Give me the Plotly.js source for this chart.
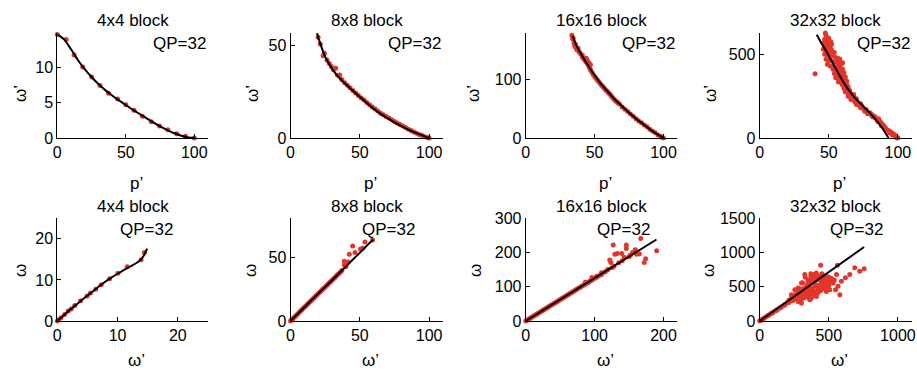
<!DOCTYPE html>
<html><head><meta charset="utf-8">
<script src="https://cdn.plot.ly/plotly-3.0.1.min.js"></script>
<style>html,body{margin:0;padding:0;background:#fff}</style>
</head><body><div id="chart" style="width:917px;height:372px"></div>
<script>
// ---- Panel titles / labels ----
var blockTitles = ["4x4 block", "8x8 block", "16x16 block", "32x32 block"];
var qpLabel = "QP=32";
var topXLabel = "p’", topYLabel = "ω’", botXLabel = "ω’", botYLabel = "ω";

// ---- Top row: p' vs omega' ----
// 4x4
var t4_px = [0, 6.5, 12.3, 18.6, 25.1, 31.2, 37.4, 44, 50, 56, 62.1, 68.6, 74.6, 80.7, 87.2, 93.5, 100];
var t4_py = [14.6, 13.9, 11.7, 10.0, 8.6, 7.4, 6.3, 5.5, 4.7, 3.9, 3.05, 2.3, 1.7, 1.17, 0.6, 0.24, 0];
var t4_cx = [0, 5, 10, 15, 20, 25, 30, 35, 40, 45, 50, 55, 60, 65, 70, 75, 80, 85, 90, 95, 100];
var t4_cy = [14.6, 13.9, 12.5, 11.0, 9.7, 8.6, 7.6, 6.75, 6.0, 5.3, 4.65, 4.0, 3.4, 2.8, 2.2, 1.65, 1.15, 0.7, 0.35, 0.1, 0.0];
// 8x8
var t8_px = [19.9, 21.5, 23.5, 24.5, 26.3, 28.0, 29.5, 31.0, 32.6, 34.0, 35.5, 37.0, 39.1, 41, 43, 45, 47, 49, 51, 53, 55, 57, 59, 61, 63, 65, 67, 69, 71, 73, 75, 77, 79, 81, 83, 85, 87, 89, 91, 93, 95, 97, 99, 100];
var t8_py = [54.7, 51.0, 44.6, 46.0, 42.4, 40.5, 38.8, 37.0, 37.9, 34.0, 34.2, 31.8, 30.0, 28.7, 27.3, 25.8, 24.4, 23.1, 21.7, 20.6, 19.3, 18.0, 16.8, 15.7, 14.6, 13.5, 12.6, 11.7, 10.8, 9.9, 9.0, 8.1, 7.3, 6.5, 5.7, 4.8, 4.1, 3.3, 2.6, 1.9, 1.3, 0.7, 0.2, 0];
var t8_cx = [19.1, 21, 23, 25, 28, 32, 36, 40, 45, 50, 55, 60, 65, 70, 75, 80, 85, 90, 95, 100];
var t8_cy = [56.9, 52.3, 48.0, 44.2, 39.9, 35.5, 32.0, 29.0, 25.6, 22.3, 19.0, 15.9, 13.1, 10.8, 8.5, 6.5, 4.6, 2.9, 1.4, 0.0];
// 16x16
var t16_px = [33.5, 34, 34.5, 35, 35.5, 36, 36, 37, 38, 38, 39, 40, 41, 41, 42, 43, 43.5, 44, 44, 44.5, 45, 45, 45.5, 46, 46, 46.5, 47, 47, 48, 49, 50, 51, 52, 53, 54, 55, 56, 57, 58, 59, 60, 61, 62, 63, 64, 65, 66, 67, 68, 70, 72, 74, 76, 78, 80, 82, 84, 86, 88, 90, 92, 94, 96, 98, 99, 100];
var t16_py = [175, 169, 170, 163, 158, 155, 160, 151, 149, 153, 146, 143, 138, 141, 135, 133, 131, 130, 136, 128, 127, 131, 125, 122, 128, 119, 116, 125, 112, 108, 105, 102, 99, 96, 93, 90, 88, 85, 82, 80, 77, 75, 72, 69, 66, 64, 62, 60, 58, 53, 49, 45, 41, 37, 33, 29, 26, 22, 19, 15, 12, 9, 5, 2.5, 1, 0];
var t16_cx = [34, 36, 38, 40, 43, 46, 50, 55, 60, 65, 70, 75, 80, 85, 90, 95, 100];
var t16_cy = [174, 162, 152, 144, 132, 121, 107, 91, 78, 65, 54, 43, 33, 24, 15, 7, 0];
// 32x32
var t32_px = [47.5, 48, 48.5, 47, 49, 50, 51, 46.5, 48, 50, 51.5, 47, 49, 51, 52, 50,
  46, 48, 50, 52, 54, 47, 49, 51, 53, 55, 57, 58, 48, 50, 52, 54, 56, 58, 59, 49, 51, 53, 55, 57, 58, 60, 60,
  53, 55, 57, 59, 61, 54, 56, 58, 60, 62, 55, 57, 59, 61, 63, 57, 59, 61, 63,
  60, 62, 64, 61, 63, 65, 62, 64, 66, 68, 64, 66, 68, 70, 66, 68, 70,
  69, 71, 73, 70, 72, 74, 73, 75, 77, 76, 78, 80, 78, 81,
  81, 83, 82, 84, 86, 85, 87, 86, 88, 89, 88, 90, 90, 91,
  91, 92, 93, 94, 95, 94, 96, 97, 96, 98, 98, 99, 100, 99.5, 40.1];
var t32_py = [627, 612, 600, 590, 585, 595, 572, 570, 565, 560, 575, 550, 545, 548, 560, 530,
  530, 520, 515, 525, 510, 500, 495, 500, 490, 480, 475, 470, 470, 465, 460, 455, 450, 445, 440, 440, 430, 425, 420, 430, 425, 450, 410,
  410, 405, 400, 395, 390, 385, 380, 375, 370, 365, 360, 355, 350, 345, 340, 335, 330, 325, 320,
  315, 310, 305, 295, 290, 285, 275, 270, 265, 260, 250, 245, 240, 235, 230, 225, 220,
  215, 210, 205, 200, 195, 190, 180, 175, 170, 160, 155, 150, 145, 140,
  135, 130, 125, 120, 115, 105, 100, 95, 90, 80, 75, 70, 65, 60,
  55, 50, 45, 40, 35, 30, 28, 22, 18, 15, 10, 5, 2, 0, 384];
var t32_cx = [41.3, 45, 49, 53, 57, 61, 65, 69, 73, 77, 81, 85, 89, 93.2];
var t32_cy = [617, 562, 506, 445, 385, 328, 280, 240, 205, 172, 138, 100, 55, 0];

// ---- Bottom row: omega' vs omega ----
var b4_px = [14.45, 13.9, 11.6, 10.05, 8.68, 7.3, 6.38, 5.5, 4.94, 3.85, 2.9, 2.3, 1.81, 1.2, 0.6, 0.24, 0];
var b4_py = [16.7, 14.9, 13.2, 11.6, 10.3, 8.8, 7.7, 6.8, 6.1, 4.9, 3.8, 2.95, 2.44, 1.6, 0.8, 0.3, 0];
var b4_cx = [0, 1, 2, 3, 4, 5, 6, 7, 8, 9, 10, 11, 12, 13, 13.6, 14, 14.5, 14.9];
var b4_cy = [0.1, 1.3, 2.6, 3.8, 5.0, 6.2, 7.3, 8.5, 9.6, 10.6, 11.5, 12.4, 13.2, 14.0, 14.6, 15.2, 16.3, 17.6];

var b8_px = [0, 0.5, 1, 1.5, 2, 3, 4, 5, 6, 7, 8, 9, 10, 11, 12, 13, 14, 15, 16, 17, 18, 19, 20, 21, 22, 23, 24, 25, 26, 27, 28, 29, 30, 31, 32, 33, 34, 35, 36, 37,
  38.8, 38.8, 41.7, 42.4, 46.5, 44.8, 52, 53.7, 59.2, 40, 50.5];
var b8_py = [0, 0.6, 1.1, 1.5, 2.2, 3.2, 4.3, 5.4, 6.5, 7.6, 8.6, 9.8, 10.9, 11.8, 13.0, 14.0, 15.1, 16.2, 17.3, 18.3, 19.5, 20.5, 21.6, 22.6, 23.7, 24.8, 25.8, 26.9, 28.0, 29.0, 30.2, 31.1, 32.2, 33.3, 34.4, 35.4, 36.6, 37.5, 38.7, 39.8,
  47.1, 44.2, 46.6, 52.6, 54.0, 59.2, 57.3, 62.4, 63.9, 43.0, 56.8];
var b8_cx = [0, 10, 20, 30, 40, 45, 50, 55, 59.6];
var b8_cy = [0, 10.9, 21.6, 32.2, 43.0, 48.5, 53.8, 59.3, 64.0];

var b16_px = [0, 2, 4, 6, 8, 10, 12, 14, 16, 18, 20, 22, 24, 26, 28, 30, 32, 34, 36, 38, 40, 42, 44, 46, 48, 50, 52, 54, 56, 58, 60, 62, 64, 66, 68, 70, 72, 74, 76, 78, 80, 82, 84, 86, 88, 90, 92, 94, 96, 98, 100, 103, 106, 110,
  127, 167, 190, 172, 174, 146, 146, 159, 161, 129.4, 133, 139.3, 123.6, 122, 125.5, 119.7, 110, 103, 96, 86.5, 150, 155, 140, 118, 115, 135, 128, 143, 165, 152];
var b16_py = [0, 2.5, 5, 7.4, 10, 12.6, 15, 17.4, 20, 22.6, 25, 27.4, 30, 32.6, 35, 37.4, 40, 42.6, 45, 47.3, 50, 52.7, 55, 57.3, 60, 62.8, 65, 67.4, 70, 72.6, 75, 77.3, 80, 82.5, 85, 87.5, 90, 92.6, 95, 97.4, 100, 102.5, 105, 107.5, 110, 112, 115, 117.6, 120, 122.4, 125, 128, 132, 136,
  222, 241, 205, 171, 182, 222, 212, 208, 195, 195, 197, 197, 171, 178, 156, 151, 141, 131, 127, 113, 188, 200, 176, 148, 143, 170, 160, 186, 196, 193];
var b16_cx = [0, 189.8];
var b16_cy = [0, 238];

var b32_px = [0, 5, 15, 25, 35, 50, 65, 80, 95, 110, 125, 140, 155, 170, 185, 200, 215, 230, 245, 10, 30, 60, 90, 120, 150, 180, 210, 240,
  326, 374, 423, 471, 507, 441, 562, 302, 350, 398, 447, 495, 531, 556, 580, 591, 620, 652, 688, 724, 756,
  567, 549, 254, 278, 314, 350, 386, 423, 459, 483, 507, 350, 398, 447,
  229, 265, 302, 338, 374, 410, 362, 302, 278, 217, 240, 260, 290, 330, 370, 420, 460, 500, 300, 340, 380, 430, 470, 520, 395, 415, 290, 250,
  280, 300, 320, 340, 360, 380, 400, 420, 440, 460, 480, 500, 320, 340, 360, 380, 400, 420, 440, 460, 350, 370, 390, 330, 310, 290, 270, 250, 230, 210,
  260, 280, 300, 320, 340, 360, 380, 400, 420, 440, 460, 480, 500, 520, 540, 480, 500, 450, 410, 370];
var b32_py = [0, 6, 19, 33, 46, 66, 86, 105, 125, 145, 165, 185, 205, 224, 244, 265, 282, 300, 318, 14, 40, 80, 120, 158, 196, 232, 272, 305,
  678, 664, 654, 629, 605, 816, 816, 556, 570, 570, 556, 531, 556, 678, 383, 580, 630, 678, 777, 727, 762,
  506, 457, 457, 482, 457, 432, 408, 457, 482, 432, 457, 506, 506, 482,
  383, 359, 334, 359, 334, 359, 310, 261, 285, 310, 300, 330, 370, 400, 420, 520, 540, 590, 420, 460, 480, 600, 560, 620, 600, 620, 400, 350,
  400, 380, 420, 390, 440, 470, 430, 500, 520, 560, 600, 580, 480, 520, 560, 600, 620, 650, 640, 610, 600, 650, 680, 640, 560, 470, 430, 380, 340, 300,
  330, 350, 300, 340, 350, 370, 390, 380, 410, 440, 470, 500, 520, 560, 600, 660, 640, 690, 700, 690];
var b32_cx = [0, 755.6];
var b32_cy = [0, 1081];

// ---- Axis ranges / ticks ----
var topXRange = [0, 110], topXTicks = [0, 50, 100];
var topYRanges = [[0, 14.8], [0, 57], [0, 179], [0, 627]];
var topYTicks = [[0, 5, 10], [0, 50], [0, 100], [0, 500]];
var botXRanges = [[0, 25], [0, 110], [0, 220], [0, 1100]];
var botXTicks = [[0, 10, 20], [0, 50, 100], [0, 100, 200], [0, 500, 1000]];
var botYRanges = [[0, 25], [0, 81], [0, 300], [0, 1500]];
var botYTicks = [[0, 10, 20], [0, 50], [0, 100, 200, 300], [0, 500, 1000, 1500]];

// ---- Layout geometry (pixels) ----
var W = 917, H = 372;
var colPx = [[57.3, 208], [290.5, 443], [525.7, 677.3], [759.7, 911.7]];
var rowPx = [[33, 138], [218.3, 321]];

var RED = '#e4352b', FONT = 'Liberation Sans, Arial, Helvetica, sans-serif';
var points = [[t4_px, t4_py, t4_cx, t4_cy], [t8_px, t8_py, t8_cx, t8_cy], [t16_px, t16_py, t16_cx, t16_cy], [t32_px, t32_py, t32_cx, t32_cy],
  [b4_px, b4_py, b4_cx, b4_cy], [b8_px, b8_py, b8_cx, b8_cy], [b16_px, b16_py, b16_cx, b16_cy], [b32_px, b32_py, b32_cx, b32_cy]];

var data = [], layout = {width: W, height: H, margin: {l: 0, r: 0, t: 0, b: 0}, showlegend: false,
  paper_bgcolor: '#fff', plot_bgcolor: '#fff', font: {family: FONT, size: 16, color: '#000'}, annotations: []};

function axis(domain, range, ticks, anchor) {
  return {domain: domain, range: range, tickvals: ticks, ticktext: ticks.map(String), ticks: 'inside', ticklen: 4,
    tickcolor: '#000', tickwidth: 1, showline: true, linecolor: '#000', linewidth: 1, showgrid: false, zeroline: false,
    anchor: anchor, tickfont: {family: FONT, size: 16, color: '#000'}, fixedrange: true};
}
function ann(text, px, py, xa, ya, opts) {
  var a = {text: text, x: px / W, y: 1 - py / H, xref: 'paper', yref: 'paper', xanchor: xa, yanchor: ya,
    showarrow: false, font: {family: FONT, size: 17, color: '#000'}};
  for (var k in opts) a[k] = opts[k];
  layout.annotations.push(a);
}

var qpBottomLeft = [118, 360, 595, 828];
for (var i = 0; i < 8; i++) {
  var r = i < 4 ? 0 : 1, c = i % 4, n = i + 1;
  var xs = n === 1 ? '' : String(n);
  var xd = [colPx[c][0] / W, colPx[c][1] / W];
  var yd = [1 - rowPx[r][1] / H, 1 - rowPx[r][0] / H];
  var xr = r === 0 ? topXRange : botXRanges[c], xt = r === 0 ? topXTicks : botXTicks[c];
  var yr = r === 0 ? topYRanges[c] : botYRanges[c], yt = r === 0 ? topYTicks[c] : botYTicks[c];
  layout['xaxis' + xs] = axis(xd, xr, xt, 'y' + xs);
  layout['yaxis' + xs] = axis(yd, yr, yt, 'x' + xs);
  var p = points[i];
  data.push({type: 'scatter', mode: 'markers', x: p[0], y: p[1], xaxis: 'x' + xs, yaxis: 'y' + xs,
    marker: {color: RED, size: 5}, cliponaxis: false, hoverinfo: 'skip'});
  data.push({type: 'scatter', mode: 'lines', x: p[2], y: p[3], xaxis: 'x' + xs, yaxis: 'y' + xs,
    line: {color: '#000', width: 2, shape: 'spline', smoothing: 0.6}, cliponaxis: false, hoverinfo: 'skip'});
  var cx = (colPx[c][0] + colPx[c][1]) / 2;
  ann(blockTitles[c], cx, r === 0 ? 21 : 207, 'center', 'middle');
  if (r === 0) ann(qpLabel, colPx[c][1], 43, 'right', 'middle');
  else ann(qpLabel, qpBottomLeft[c], 229, 'left', 'middle');
  if (r === 0) ann(topXLabel, cx + 4, 183, 'center', 'middle');
  else ann(botXLabel, cx + 4, 372, 'center', 'bottom');
  var ylx = r === 0 ? [20, 252, 473, 710][c] : [20, 250, 475, 708][c];
  ann(r === 0 ? topYLabel : botYLabel, ylx, r === 0 ? 94 : 271, 'center', 'middle', {textangle: -90});
}

Plotly.newPlot('chart', data, layout, {displayModeBar: false, staticPlot: true});
</script></body></html>
